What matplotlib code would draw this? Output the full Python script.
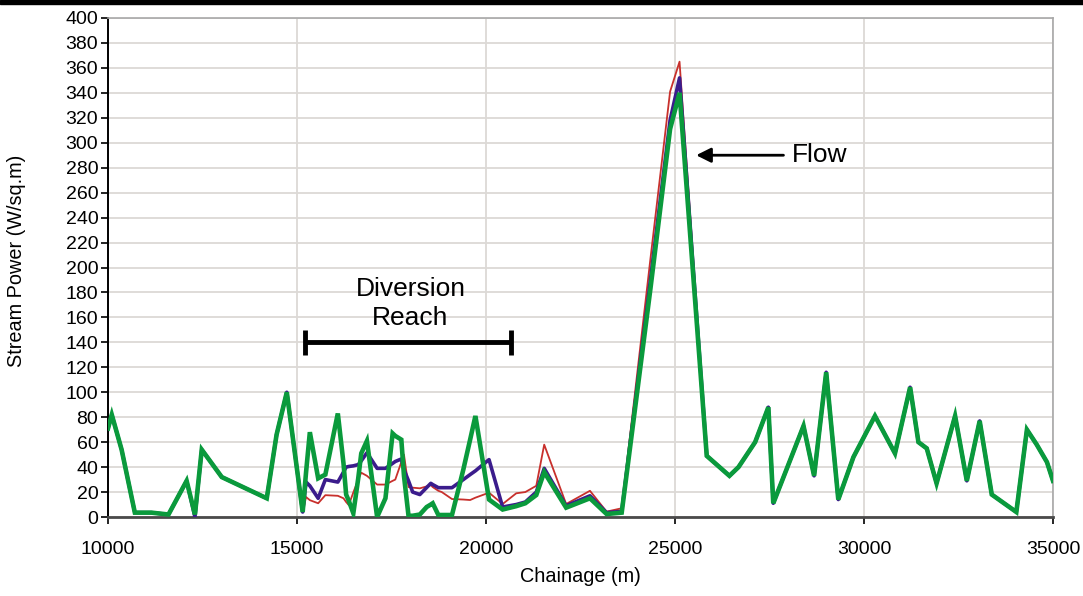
import matplotlib
matplotlib.use("Agg")
import matplotlib.pyplot as plt
from matplotlib.patches import Rectangle

plt.rcParams['font.family'] = ['Liberation Sans', 'DejaVu Sans']

# Chainage (m) of each surveyed section
chainage = [10000, 10100, 10360, 10710, 11150, 11600, 12080, 12300, 12480, 13010,
            14200, 14460, 14730, 15150, 15240, 15340, 15560, 15750, 16080, 16230,
            16300, 16370, 16490, 16620, 16700, 16850, 17120, 17340, 17530, 17600,
            17760, 17830, 17950, 18060, 18250, 18430, 18540, 18590, 18740, 18830,
            19100, 19400, 19580, 19720, 20080, 20440, 20800, 21040, 21330, 21540,
            22120, 22750, 23190, 23590, 24350, 24870, 25120, 25840, 26440, 26680,
            27120, 27470, 27600, 28400, 28680, 29000, 29320, 29720, 30290, 30820,
            31220, 31440, 31660, 31920, 32410, 32720, 33060, 33380, 34030, 34310,
            34570, 34840, 35000]

# Stream power (W/sq.m) for the three flow cases
power_red = [71, 82, 54, 3.5, 3.5, 2, 29, 0, 54, 32,
             15, 66, 100, 4, 16, 13.5, 11, 17.5, 17, 15,
             12, 9.6, 19.7, 30, 35.5, 33, 26, 26, 29, 30,
             44, 50, 24, 23.5, 23, 24.5, 25.6, 24, 21, 20,
             14.4, 14, 13.6, 15.5, 19.5, 10.4, 19, 20, 25, 58,
             10.4, 21, 4.3, 7, 207, 341, 365, 49, 33, 40,
             60, 88, 11, 73, 33, 116, 14, 48, 81, 51,
             104, 60, 55, 27, 81, 29, 77, 18, 4, 70,
             58, 44, 29]

power_blue = [71, 82, 54, 3.5, 3.5, 2, 29, 0, 54, 32,
              15, 66, 100, 4, 28, 25, 15, 30, 28, 36,
              40, 40.5, 41, 42, 45, 51.5, 39, 39, 43, 44.5,
              46.5, 38, 29, 20, 18, 23.6, 27, 26, 23.5, 23.5,
              23.5, 30, 34, 37, 46, 8, 10, 12, 20, 39,
              9, 17, 3.5, 4.5, 190, 318, 352, 49, 33, 40,
              60, 88, 11, 73, 33, 116, 14, 48, 81, 51,
              104, 60, 55, 27, 81, 29, 77, 18, 4, 70,
              58, 44, 29]

power_green = [71, 82, 54, 3.5, 3.5, 2, 29, 2, 54, 32,
               15, 66, 100, 4, 36, 68, 31, 34, 83, 43,
               18, 13, 3, 31, 51, 61, 0, 15, 67, 65,
               62, 33, 1, 1, 2, 8, 10, 11, 1.6, 1.6,
               1.6, 38, 62, 81, 14, 6, 8.7, 11, 17.6, 36,
               7.5, 15, 2.4, 3.5, 183, 311, 340, 49, 33, 40,
               60, 88, 11, 73, 33, 116, 14, 48, 81, 51,
               104, 60, 55, 27, 81, 29, 77, 18, 4, 70,
               58, 44, 29]

x_ticks = [10000, 15000, 20000, 25000, 30000, 35000]
y_ticks = list(range(0, 401, 20))

fig = plt.figure(figsize=(10.83, 5.96), dpi=100)
ax = fig.add_axes([108 / 1083, 79 / 596, 945 / 1083, 499 / 596])

# dark strip along the top edge
fig.patches.append(Rectangle((0, 1 - 4 / 596), 1, 4 / 596, transform=fig.transFigure,
                             color='black', zorder=10))

ax.plot(chainage, power_red, color='#c8302c', lw=1.3, zorder=3)
ax.plot(chainage, power_blue, color='#3b1c8c', lw=2.6, zorder=4)
ax.plot(chainage, power_green, color='#0a9a3c', lw=3.3, zorder=5,
        solid_joinstyle='miter')

ax.set_xlim(10000, 35000)
ax.set_ylim(0, 400)
ax.set_xticks(x_ticks)
ax.set_yticks(y_ticks)
ax.grid(True, color='#dcd9d6', lw=1.3, zorder=0)
ax.set_axisbelow(True)

ax.tick_params(axis='y', direction='out', length=5, width=1.2, labelsize=14, pad=2)
ax.tick_params(axis='x', direction='out', length=5, width=1.2, labelsize=14, pad=12)

ax.spines['left'].set_color('black')
ax.spines['left'].set_linewidth(1.4)
ax.spines['bottom'].set_color('#4a4a4a')
ax.spines['bottom'].set_linewidth(2)
for side in ('top', 'right'):
    ax.spines[side].set_color('#a8a8a8')
    ax.spines[side].set_linewidth(1.2)

ax.set_xlabel('Chainage (m)', fontsize=14.3)
ax.set_ylabel('Stream Power (W/sq.m)', fontsize=14.3)
ax.xaxis.set_label_coords(0.5, -0.1)
ax.yaxis.set_label_coords(-0.087, 0.513)

# diversion reach marker
ax.hlines(140, 15200, 20650, color='black', lw=3.5, zorder=6)
ax.vlines([15200, 20650], 130, 150, color='black', lw=3.5, zorder=6)
ax.text(18000, 171, 'Diversion\nReach', ha='center', va='center',
        fontsize=19, linespacing=1.25, zorder=7)

# flow direction arrow
ax.annotate('Flow', xy=(25560, 290), xytext=(28090, 290), ha='left', va='center',
            fontsize=19, zorder=7,
            arrowprops=dict(arrowstyle='-|>', color='black', lw=2,
                            mutation_scale=22, shrinkA=4, shrinkB=0))

fig.savefig('out.png', dpi=100)
